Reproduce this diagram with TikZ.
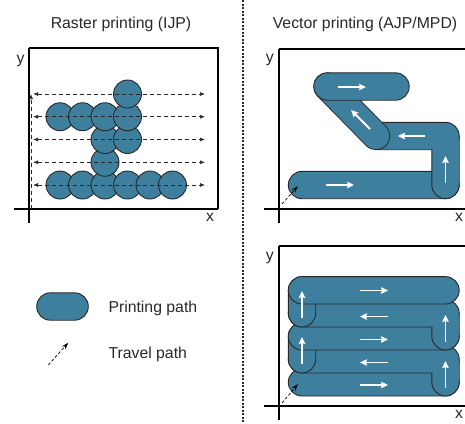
\documentclass[tikz,border=0pt]{standalone}
\usepackage{fontspec}
\setmainfont{Liberation Sans}
\usetikzlibrary{arrows.meta}

\definecolor{pathblue}{RGB}{62,127,157}
\definecolor{inkgray}{RGB}{40,40,40}

\begin{document}
\begin{tikzpicture}[x=1pt, y=-1pt,
		txt/.style={font=\fontsize{15.8}{18}\selectfont, text=inkgray, inner sep=0pt, anchor=base},
		axisline/.style={line width=2pt, black},
		boxline/.style={line width=1.6pt, black},
		drop/.style={draw=inkgray, line width=0.9pt, fill=pathblue},
		stadium/.style={draw=inkgray, line width=0.9pt, fill=pathblue, rounded corners=13.7pt},
		slantout/.style={inkgray, line width=28.3pt, line cap=round},
		slantin/.style={pathblue, line width=26.5pt, line cap=round},
		scan/.style={inkgray, line width=0.7pt, dash pattern=on 4pt off 3pt, {Latex[length=5pt, width=4pt]}-{Latex[length=5pt, width=4pt]}},
		scanup/.style={inkgray, line width=0.7pt, dash pattern=on 4pt off 3pt, -{Latex[length=5pt, width=4pt]}},
		travel/.style={black, line width=0.7pt, dash pattern=on 3pt off 2pt, -{Stealth[length=7pt, width=4.5pt]}},
		dirarrow/.style={white, line width=1.8pt, -{Stealth[length=7pt, width=6.5pt, inset=1pt]}}]
	\def\xl{431.8}
	\def\xr{459.2}
	\def\rad{13.7}

	\useasboundingbox (0,0) rectangle (465,423);

	% divider
	\draw[inkgray, line width=1.3pt, dash pattern=on 2pt off 1.5pt] (243,0) -- (243,423);

	\node[txt] (rastertitle) at (121,28.5) {Raster printing (IJP)};
	\node[txt] (vectortitle) at (365,28.5) {Vector printing (AJP/MPD)};

	% raster panel
	\begin{scope}
		\draw[boxline] (29,48) -- (218,48) -- (218,209);
		\draw[axisline] (14,209) -- (218,209);
		\draw[axisline] (29,48) -- (29,223);
		\node[txt] (rasterY) at (20.5,63) {y};
		\node[txt] (rasterX) at (210,221.5) {x};

		\foreach \row/\cols in {4/{0,1,2,3,4,5}, 3/{2}, 2/{2,3}, 1/{0,1,2,3}, 0/{3}}
			\foreach \c in \cols
				\draw[drop] (60+22.5*\c, 94+22.75*\row) circle[radius=14pt];

		\foreach \row in {0,...,4} {
			\coordinate (scanL\row) at (33, 94+22.75*\row);
			\coordinate (scanR\row) at (205, 94+22.75*\row);
			\draw[scan] (scanL\row) -- (scanR\row);
		}
		\coordinate (home) at (31,209);
		\coordinate (homeUp) at (31,94);
		\draw[scanup] (home) -- (homeUp);
	\end{scope}

	% legend
	\draw[stadium] (36.7,292.8) rectangle (88.3,320.2);
	\node[txt, anchor=base west] (printlbl) at (108.3,312) {Printing path};
	\coordinate (legT0) at (48.3,365);
	\coordinate (legT1) at (68.3,342.7);
	\draw[travel] (legT0) -- (legT1);
	\node[txt, anchor=base west] (travellbl) at (108.3,358) {Travel path};

	% vector panels, axes
	\foreach \dy in {0,197} {
		\draw[boxline] (279,49+\dy) -- (465,49+\dy);
		\draw[axisline] (264,209+\dy) -- (465,209+\dy);
		\draw[axisline] (279,49+\dy) -- (279,223+\dy);
	}
	\node[txt] (vecY1) at (269.7,62) {y};
	\node[txt] (vecX1) at (459,221.5) {x};
	\node[txt] (vecY2) at (269.7,260) {y};
	\node[txt] (vecX2) at (459,418.5) {x};

	% vector panel 1: free path
	\draw[stadium] (288.3,185-\rad) rectangle (\xr,185+\rad);
	\draw[stadium] (366.3,136-\rad) rectangle (\xr,136+\rad);
	\draw[stadium] (\xl,136+\rad) -- (\xl,185+\rad) -- (\xr,185+\rad) -- (\xr,136);
	\draw[slantout] (376,136) -- (327.5,86.5);
	\draw[slantin] (376,136) -- (327.5,86.5);
	\draw[stadium] (313.8,86.5-\rad) rectangle (409.2,86.5+\rad);

	\draw[dirarrow] (326,185) -- (354,185);
	\draw[dirarrow] (445.5,183) -- (445.5,156);
	\draw[dirarrow] (425,136) -- (398,136);
	\draw[dirarrow] (370,129) -- (351,110);
	\draw[dirarrow] (338,87) -- (366,87);

	\coordinate (start1) at (282,204);
	\coordinate (entry1) at (298,186);
	\draw[travel] (start1) -- (entry1);

	% vector panel 2: zig-zag fill, printed bottom up
	\foreach \y/\turn in {382.3/0, 359.3/1, 336.3/0, 313.3/1, 290.3/0} {
		\draw[stadium] (288.3,\y-\rad) rectangle (\xr,\y+\rad);
		\ifnum\turn=1
			\draw[stadium] (288.3,\y-23-\rad) rectangle (315.7,\y+\rad);
		\fi
	}
	\draw[stadium] (\xl,359.3+\rad) -- (\xl,382.3+\rad) -- (\xr,382.3+\rad) -- (\xr,359.3);
	\draw[stadium] (\xl,313.3+\rad) -- (\xl,336.3+\rad) -- (\xr,336.3+\rad) -- (\xr,313.3);

	\draw[dirarrow] (360,385) -- (388,385);
	\draw[dirarrow] (388,362.5) -- (360,362.5);
	\draw[dirarrow] (360,339.5) -- (388,339.5);
	\draw[dirarrow] (388,316.5) -- (360,316.5);
	\draw[dirarrow] (360,290.5) -- (388,290.5);
	\draw[dirarrow] (302,318) -- (302,291);
	\draw[dirarrow] (302,364) -- (302,337);
	\draw[dirarrow] (445.5,342) -- (445.5,315);
	\draw[dirarrow] (445.5,388) -- (445.5,361);

	\coordinate (start2) at (282,403);
	\coordinate (entry2) at (298,384);
	\draw[travel] (start2) -- (entry2);
\end{tikzpicture}
\end{document}
